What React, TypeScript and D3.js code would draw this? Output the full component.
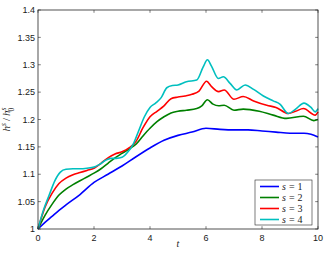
import * as d3 from 'd3';

// time samples and h^s/h_0^s values for each s
const tBlue = [0, 0.25, 0.5, 0.75, 1, 1.5, 2, 2.5, 3, 3.5, 4, 4.5, 5, 5.5, 6, 6.5, 7, 7.5, 8, 8.5, 9, 9.5, 9.75, 10];
const vBlue = [1, 1.012, 1.023, 1.034, 1.044, 1.063, 1.085, 1.1, 1.115, 1.132, 1.148, 1.162, 1.171, 1.177, 1.184, 1.182, 1.181, 1.181, 1.179, 1.177, 1.175, 1.175, 1.173, 1.168];

const tGreen = [0, 0.25, 0.5, 0.75, 1, 1.25, 1.5, 1.75, 2, 2.25, 2.5, 2.75, 3, 3.25, 3.5, 3.75, 4, 4.25, 4.5, 4.75, 5, 5.3, 5.67, 5.85, 6.05, 6.25, 6.45, 6.65, 7, 7.33, 7.9, 8.4, 8.87, 9.48, 9.85, 10];
const vGreen = [1, 1.025, 1.045, 1.062, 1.073, 1.081, 1.088, 1.095, 1.102, 1.11, 1.12, 1.13, 1.138, 1.146, 1.155, 1.17, 1.184, 1.196, 1.205, 1.212, 1.215, 1.217, 1.22, 1.225, 1.236, 1.228, 1.225, 1.226, 1.217, 1.219, 1.215, 1.208, 1.202, 1.206, 1.198, 1.2];

const tRed = [0, 0.25, 0.5, 0.75, 1, 1.25, 1.5, 1.75, 2, 2.25, 2.5, 2.75, 3, 3.25, 3.5, 3.75, 4, 4.25, 4.5, 4.75, 5, 5.25, 5.5, 5.75, 6.02, 6.2, 6.45, 6.65, 7, 7.33, 7.7, 8.17, 8.5, 8.94, 9.2, 9.48, 9.9, 10];
const vRed = [1, 1.04, 1.065, 1.083, 1.093, 1.099, 1.103, 1.107, 1.111, 1.12, 1.13, 1.137, 1.141, 1.148, 1.16, 1.185, 1.205, 1.215, 1.225, 1.238, 1.241, 1.243, 1.246, 1.252, 1.27, 1.26, 1.251, 1.254, 1.237, 1.242, 1.234, 1.226, 1.222, 1.211, 1.215, 1.22, 1.208, 1.214];

const tCyan = [0, 0.2, 0.4, 0.6, 0.8, 1, 1.25, 1.5, 1.75, 2, 2.2, 2.4, 2.6, 2.8, 3, 3.2, 3.4, 3.6, 3.8, 4, 4.2, 4.4, 4.6, 4.8, 5, 5.3, 5.67, 5.9, 6.05, 6.2, 6.44, 6.62, 6.86, 7.1, 7.4, 7.7, 8.05, 8.4, 8.64, 8.94, 9.2, 9.5, 9.75, 9.9, 10];
const vCyan = [1, 1.035, 1.062, 1.088, 1.104, 1.109, 1.11, 1.11, 1.111, 1.113, 1.118, 1.125, 1.129, 1.129, 1.131, 1.14, 1.155, 1.18, 1.205, 1.222, 1.23, 1.24, 1.258, 1.262, 1.263, 1.269, 1.272, 1.296, 1.309, 1.297, 1.275, 1.278, 1.266, 1.254, 1.263, 1.255, 1.243, 1.234, 1.228, 1.211, 1.219, 1.23, 1.222, 1.214, 1.22];

const seriesLabels = ['1', '2', '3', '4'];
const seriesColors = ['#0000ff', '#008000', '#ff0000', '#00bfbf'];
const xTicks = [0, 2, 4, 6, 8, 10];
const yTicks = [1, 1.05, 1.1, 1.15, 1.2, 1.25, 1.3, 1.35, 1.4];

const W = 327;
const H = 253;
const PLOT = { left: 38, right: 318, top: 10, bottom: 229 };
const TICK_FONT = 'Liberation Sans, Arial, Helvetica, sans-serif';
const MATH_FONT = 'Liberation Serif, Times New Roman, serif';

export default function App() {
  const x = d3.scaleLinear().domain([0, 10]).range([PLOT.left, PLOT.right]);
  const y = d3.scaleLinear().domain([1, 1.4]).range([PLOT.bottom, PLOT.top]);

  const line = d3.line<[number, number]>()
    .x(d => x(d[0]))
    .y(d => y(d[1]))
    .curve(d3.curveMonotoneX);

  const series = [
    [tBlue, vBlue],
    [tGreen, vGreen],
    [tRed, vRed],
    [tCyan, vCyan],
  ].map(([ts, vs]) => ts.map((t, i) => [t, vs[i]] as [number, number]));

  const axisColor = '#262626';
  const tickLen = 2.8;

  const legend = { x: 255, y: 180, w: 57, h: 45 };

  return (
    <div style={{ position: 'fixed', left: 0, top: 0, background: '#fff' }}>
      <svg width={W} height={H} style={{ display: 'block' }}>
        <rect width={W} height={H} fill="#fff" />

        {/* data lines */}
        <g fill="none" strokeWidth={1.6} strokeLinejoin="round">
          {series.map((s, i) => (
            <path key={i} d={line(s)!} stroke={seriesColors[i]} />
          ))}
        </g>

        {/* frame with inward ticks on all sides */}
        <rect x={PLOT.left} y={PLOT.top} width={PLOT.right - PLOT.left} height={PLOT.bottom - PLOT.top}
          fill="none" stroke={axisColor} strokeWidth={0.8} />
        <g stroke={axisColor} strokeWidth={0.6}>
          {xTicks.map(t => (
            <g key={'xt' + t}>
              <line x1={x(t)} x2={x(t)} y1={PLOT.bottom} y2={PLOT.bottom - tickLen} />
              <line x1={x(t)} x2={x(t)} y1={PLOT.top} y2={PLOT.top + tickLen} />
            </g>
          ))}
          {yTicks.map(t => (
            <g key={'yt' + t}>
              <line x1={PLOT.left} x2={PLOT.left + tickLen} y1={y(t)} y2={y(t)} />
              <line x1={PLOT.right} x2={PLOT.right - tickLen} y1={y(t)} y2={y(t)} />
            </g>
          ))}
        </g>

        {/* tick labels */}
        <g fontFamily={TICK_FONT} fontSize={9} fill="#1a1a1a">
          {xTicks.map(t => (
            <text key={'xl' + t} x={x(t)} y={PLOT.bottom + 12} textAnchor="middle">{t}</text>
          ))}
          {yTicks.map(t => (
            <text key={'yl' + t} x={PLOT.left - 3} y={y(t) + 3.2} textAnchor="end">{d3.format('~g')(t)}</text>
          ))}
        </g>

        {/* axis labels */}
        <text x={(PLOT.left + PLOT.right) / 2} y={247} textAnchor="middle" fontFamily={MATH_FONT}
          fontStyle="italic" fontSize={10} fill="#1a1a1a">t</text>
        <text transform={`translate(10,${(PLOT.top + PLOT.bottom) / 2}) rotate(-90)`} textAnchor="middle"
          fontFamily={MATH_FONT} fontSize={11} fill="#1a1a1a">
          <tspan fontStyle="italic">h</tspan>
          <tspan fontStyle="italic" fontSize={7.5} dy={-4}>s</tspan>
          <tspan dx={2} dy={4}>/</tspan>
          <tspan dx={2} fontStyle="italic">h</tspan>
          <tspan fontStyle="italic" fontSize={7.5} dy={-4}>s</tspan>
          <tspan fontSize={7.5} dx={-4} dy={7.5}>0</tspan>
        </text>

        {/* legend */}
        <rect x={legend.x} y={legend.y} width={legend.w} height={legend.h} fill="#fff" stroke={axisColor} strokeWidth={0.6} />
        {seriesLabels.map((lab, i) => {
          const ly = legend.y + 6.5 + i * 11;
          return (
            <g key={lab}>
              <line x1={legend.x + 5} x2={legend.x + 24} y1={ly} y2={ly} stroke={seriesColors[i]} strokeWidth={1.6} />
              <text x={legend.x + 27} y={ly + 3.3} fontFamily={MATH_FONT} fontSize={10} fill="#1a1a1a">
                <tspan fontStyle="italic">s</tspan>
                <tspan dx={3}>=</tspan>
                <tspan dx={3}>{lab}</tspan>
              </text>
            </g>
          );
        })}
      </svg>
    </div>
  );
}
